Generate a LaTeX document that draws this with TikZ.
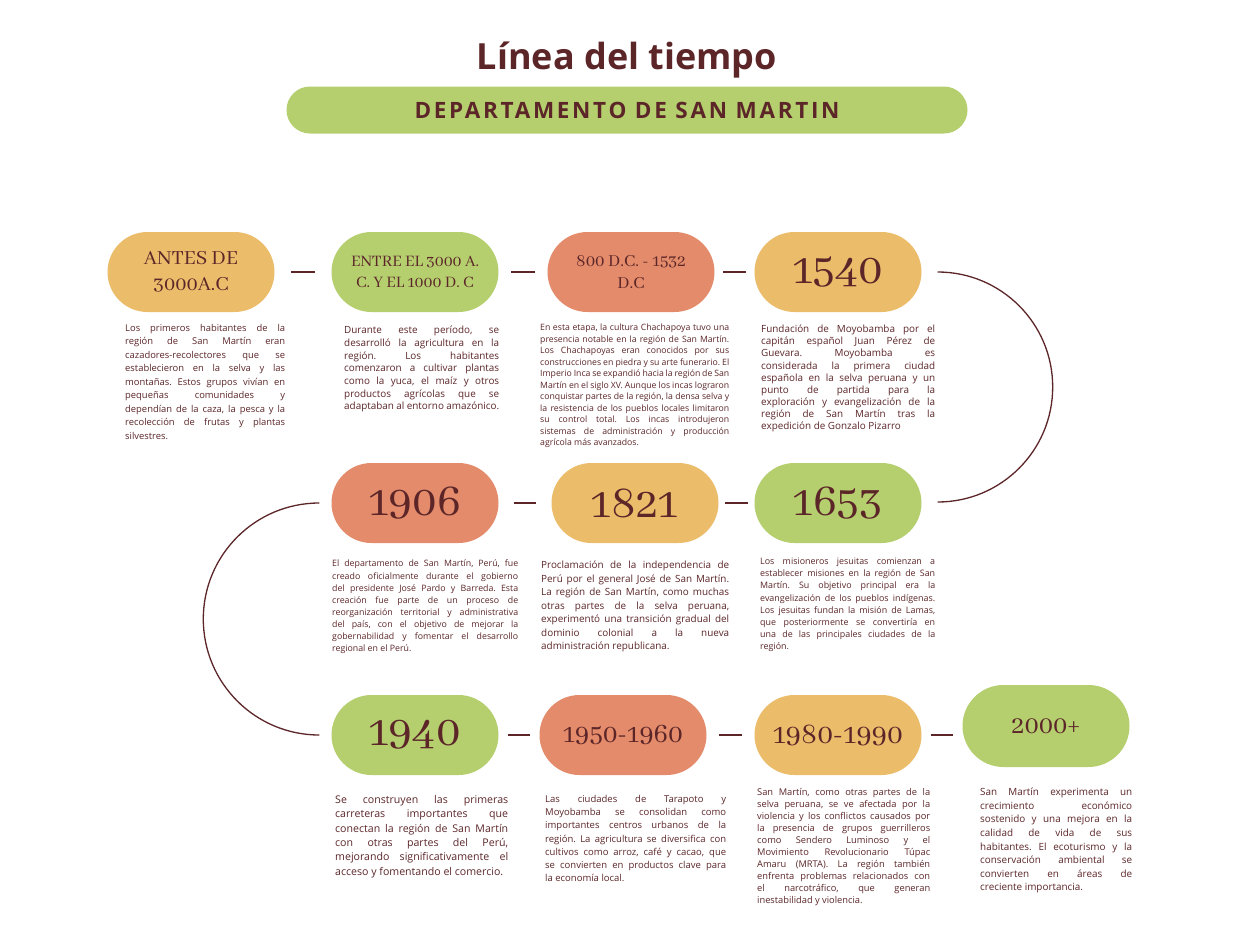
\documentclass[tikz,border=0pt]{standalone}
\usepackage{fontspec}
\setmainfont{Open Sans}
\newfontfamily\datefont[Numbers=Lining]{Abhaya Libre}

\definecolor{wine}{HTML}{5C2629}
\definecolor{ochre}{HTML}{EBBD6B}
\definecolor{leaf}{HTML}{B5CF6F}
\definecolor{coral}{HTML}{E38B6A}

\tolerance=10000
\hbadness=10000
\frenchspacing

\tikzset{
  period/.style={rectangle, rounded corners=40pt, minimum width=167pt,
                 minimum height=80pt, align=center, text=wine, inner sep=2pt},
  desc/.style={anchor=north west, inner sep=0pt, align=justify, text=wine},
  tick/.style={wine, line width=2pt, shorten <=#1, shorten >=#1},
  loop/.style={wine, line width=1.3pt}
}

\begin{document}
\begin{tikzpicture}[x=1pt, y=1pt]
    \useasboundingbox[fill=white] (0,0) rectangle (1254,-926);

    % Title

    \node (title) [text=wine, font=\fontsize{36}{40}\selectfont\bfseries]
          at (627,-60) {Línea del tiempo};
    \node (banner) [fill=leaf, rounded corners=23.5pt, minimum width=681pt,
                    minimum height=47pt, text=wine,
                    font=\fontsize{22.5}{24}\selectfont\bfseries\addfontfeature{LetterSpace=12}]
          at (627,-110) {DEPARTAMENTO DE SAN MARTIN};

    % First row

    \node (antes) [period, fill=ochre,
                   font=\datefont\fontsize{22}{26}\selectfont]
          at (191,-272) {ANTES DE\\3000A.C};
    \node (entre) [period, fill=leaf,
                   font=\datefont\fontsize{17.5}{21}\selectfont]
          at (415,-272) {ENTRE EL 3000 A.\\C. Y EL 1000 D. C};
    \node (inca) [period, fill=coral,
                  font=\datefont\fontsize{18.5}{22}\selectfont]
          at (631,-272) {800 D.C. - 1532\\D.C};
    \node (y1540) [period, fill=ochre,
                   font=\datefont\fontsize{48}{50}\selectfont]
          at (838,-272) {1540};
    \draw[tick=16.5pt] (antes) -- (entre);
    \draw[tick=12.5pt] (entre) -- (inca);
    \draw[tick=8.5pt] (inca) -- (y1540);

    \node (txtantes) [desc, text width=160pt, font=\fontsize{9.4}{13.5}\selectfont]
          at (125,-324) {Los primeros habitantes de la\linebreak
          región de San Martín eran\linebreak
          cazadores-recolectores que se\linebreak
          establecieron en la selva y las\linebreak
          montañas. Estos grupos vivían en\linebreak
          pequeñas comunidades y\linebreak
          dependían de la caza, la pesca y la\linebreak
          recolección de frutas y plantas\linebreak
          silvestres.};
    \node (txtentre) [desc, text width=155pt, font=\fontsize{9.9}{12.7}\selectfont]
          at (344,-326) {Durante este período, se\linebreak
          desarrolló la agricultura en la\linebreak
          región. Los habitantes\linebreak
          comenzaron a cultivar plantas\linebreak
          como la yuca, el maíz y otros\linebreak
          productos agrícolas que se\linebreak
          adaptaban al entorno amazónico.};
    \node (txtinca) [desc, text width=189pt, font=\fontsize{8.7}{11.5}\selectfont]
          at (540,-324) {En esta etapa, la cultura Chachapoya tuvo una\linebreak
          presencia notable en la región de San Martín.\linebreak
          Los Chachapoyas eran conocidos por sus\linebreak
          construcciones en piedra y su arte funerario. El\linebreak
          Imperio Inca se expandió hacia la región de San\linebreak
          Martín en el siglo XV. Aunque los incas lograron\linebreak
          conquistar partes de la región, la densa selva y\linebreak
          la resistencia de los pueblos locales limitaron\linebreak
          su control total. Los incas introdujeron\linebreak
          sistemas de administración y producción\linebreak
          agrícola más avanzados.};
    \node (txt1540) [desc, text width=174pt, font=\fontsize{9.9}{12.1}\selectfont]
          at (761,-325) {Fundación de Moyobamba por el\linebreak
          capitán español Juan Pérez de\linebreak
          Guevara. Moyobamba es\linebreak
          considerada la primera ciudad\linebreak
          española en la selva peruana y un\linebreak
          punto de partida para la\linebreak
          exploración y evangelización de la\linebreak
          región de San Martín tras la\linebreak
          expedición de Gonzalo Pizarro};

    % Second row

    \node (y1906) [period, fill=coral,
                   font=\datefont\fontsize{48}{50}\selectfont]
          at (415,-503) {1906};
    \node (y1821) [period, fill=ochre,
                   font=\datefont\fontsize{48}{50}\selectfont]
          at (635,-503) {1821};
    \node (y1653) [period, fill=leaf,
                   font=\datefont\fontsize{48}{50}\selectfont]
          at (838,-503) {1653};
    \draw[tick=15pt] (y1906) -- (y1821);
    \draw[tick=6.5pt] (y1821) -- (y1653);
    \draw[loop] ([xshift=16pt]y1540.east) arc[start angle=90, end angle=-90, radius=115];

    \node (txt1906) [desc, text width=186pt, font=\fontsize{8.8}{12.1}\selectfont]
          at (332,-560) {El departamento de San Martín, Perú, fue\linebreak
          creado oficialmente durante el gobierno\linebreak
          del presidente José Pardo y Barreda. Esta\linebreak
          creación fue parte de un proceso de\linebreak
          reorganización territorial y administrativa\linebreak
          del país, con el objetivo de mejorar la\linebreak
          gobernabilidad y fomentar el desarrollo\linebreak
          regional en el Perú.};
    \node (txt1821) [desc, text width=188pt, font=\fontsize{9.9}{13.5}\selectfont]
          at (541,-561) {Proclamación de la independencia de\linebreak
          Perú por el general José de San Martín.\linebreak
          La región de San Martín, como muchas\linebreak
          otras partes de la selva peruana,\linebreak
          experimentó una transición gradual del\linebreak
          dominio colonial a la nueva\linebreak
          administración republicana.};
    \node (txt1653) [desc, text width=175pt, font=\fontsize{8.9}{12.1}\selectfont]
          at (760,-558) {Los misioneros jesuitas comienzan a\linebreak
          establecer misiones en la región de San\linebreak
          Martín. Su objetivo principal era la\linebreak
          evangelización de los pueblos indígenas.\linebreak
          Los jesuitas fundan la misión de Lamas,\linebreak
          que posteriormente se convertiría en\linebreak
          una de las principales ciudades de la\linebreak
          región.};

    % Third row

    \node (y1940) [period, fill=leaf,
                   font=\datefont\fontsize{48}{50}\selectfont]
          at (415,-735) {1940};
    \node (y1950) [period, fill=coral,
                   font=\datefont\fontsize{29}{32}\selectfont]
          at (623,-735) {1950-1960};
    \node (y1980) [period, fill=ochre,
                   font=\datefont\fontsize{31}{34}\selectfont]
          at (838,-735) {1980-1990};
    \node (y2000) [period, fill=leaf, minimum height=82pt, rounded corners=41pt,
                   font=\datefont\fontsize{28}{30}\selectfont]
          at (1046,-726) {2000+};
    \draw[loop] ([xshift=-12pt]y1906.west) arc[start angle=90, end angle=270, radius=116];
    \draw[tick=9pt] (y1940) -- (y1950);
    \draw[tick=12.5pt] (y1950) -- (y1980);
    \draw[tick=9pt] (y1980.east) -- (y1980.east -| y2000.west);

    \node (txt1940) [desc, text width=173pt, font=\fontsize{10.6}{14.4}\selectfont]
          at (335,-795) {Se construyen las primeras\linebreak
          carreteras importantes que\linebreak
          conectan la región de San Martín\linebreak
          con otras partes del Perú,\linebreak
          mejorando significativamente el\linebreak
          acceso y fomentando el comercio.};
    \node (txt1950) [desc, text width=181pt, font=\fontsize{9.5}{13.2}\selectfont]
          at (545,-795) {Las ciudades de Tarapoto y\linebreak
          Moyobamba se consolidan como\linebreak
          importantes centros urbanos de la\linebreak
          región. La agricultura se diversifica con\linebreak
          cultivos como arroz, café y cacao, que\linebreak
          se convierten en productos clave para\linebreak
          la economía local.};
    \node (txt1980) [desc, text width=173pt, font=\fontsize{9.3}{12}\selectfont]
          at (757,-788) {San Martín, como otras partes de la\linebreak
          selva peruana, se ve afectada por la\linebreak
          violencia y los conflictos causados por\linebreak
          la presencia de grupos guerrilleros\linebreak
          como Sendero Luminoso y el\linebreak
          Movimiento Revolucionario Túpac\linebreak
          Amaru (MRTA). La región también\linebreak
          enfrenta problemas relacionados con\linebreak
          el narcotráfico, que generan\linebreak
          inestabilidad y violencia.};
    \node (txt2000) [desc, text width=152pt, font=\fontsize{9.9}{13.6}\selectfont]
          at (980,-788) {San Martín experimenta un\linebreak
          crecimiento económico\linebreak
          sostenido y una mejora en la\linebreak
          calidad de vida de sus\linebreak
          habitantes. El ecoturismo y la\linebreak
          conservación ambiental se\linebreak
          convierten en áreas de\linebreak
          creciente importancia.};
\end{tikzpicture}
\end{document}
